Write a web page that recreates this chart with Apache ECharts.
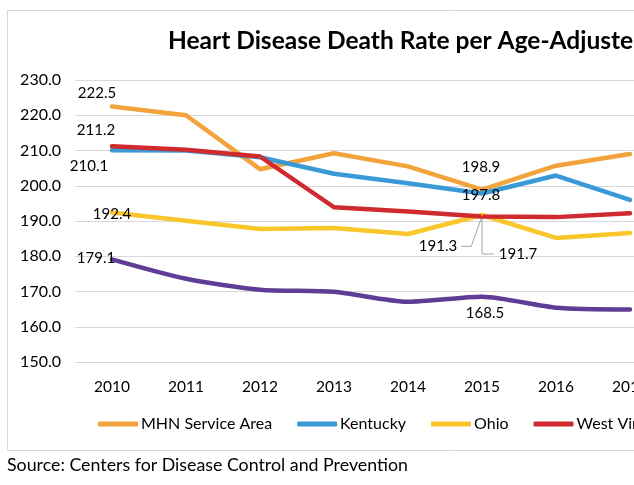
<!DOCTYPE html>
<html>
<head>
<meta charset="utf-8">
<script src="https://cdn.jsdelivr.net/npm/echarts@6/dist/echarts.min.js"></script>
<style>
html,body{margin:0;padding:0;background:#fff;overflow:hidden;width:634px;height:485px;}
#chart{width:900px;height:485px;}
</style>
</head>
<body>
<div id="chart"></div>
<script>
const years = ['2010','2011','2012','2013','2014','2015','2016','2017'];
const mhn      = [222.5, 220.0, 204.7, 209.2, 205.5, 198.9, 205.7, 209.0];
const kentucky = [210.1, 210.0, 208.1, 203.4, 200.7, 197.8, 202.9, 196.0];
const ohio     = [192.4, 190.1, 187.7, 188.0, 186.3, 191.7, 185.2, 186.6];
const wv       = [211.2, 210.2, 208.3, 193.9, 192.7, 191.3, 191.1, 192.2];
const us       = [179.1, 173.6, 170.5, 169.9, 167.1, 168.5, 165.4, 164.9];
const yTicks   = [150, 160, 170, 180, 190, 200, 210, 220, 230];

const FONT = 'Lato';
const LABEL_SIZE = 15;
const labelBase = {color:'#000', fontFamily:FONT, fontSize:LABEL_SIZE, position:'inside', textBorderWidth:0};
// labelled points: index -> [dx, dy, leaderSide]
const labelSpec = {
  'MHN Service Area': {0:[-15,-13], 5:[-1,-22]},
  'Kentucky': {0:[-23,16], 5:[-1,2]},
  'Ohio': {0:[0,2], 5:[36,39,'right']},
  'West Virginia': {0:[-16,-16], 5:[-44,30,'left']},
  'United States': {0:[-16,-1], 5:[3,16]}
};

function buildData(name, arr){
  const spec = labelSpec[name] || {};
  return arr.map((v,i)=>{
    const s = spec[i];
    if(!s) return {value:v, label:{show:false}};
    return {value:v, label:Object.assign({show:true, formatter:(p)=>p.value.toFixed(1)}, labelBase)};
  });
}

const seriesDefs = [
  {name:'MHN Service Area', data:mhn, color:'#F3A33B'},
  {name:'Kentucky', data:kentucky, color:'#3A9AD8'},
  {name:'Ohio', data:ohio, color:'#F9C62C'},
  {name:'West Virginia', data:wv, color:'#CF2A2E'},
  {name:'United States', data:us, color:'#5F3C95'}
];

function layoutFor(seriesName){
  return function(params){
    const s = (labelSpec[seriesName]||{})[params.dataIndex];
    if(!s) return {};
    return {dx:s[0], dy:s[1]};
  };
}

const chart = echarts.init(document.getElementById('chart'), null, {renderer:'canvas'});
const baseGraphic = [
  {type:'rect', shape:{x:7.5, y:10.5, width:1000, height:440}, style:{fill:'none', stroke:'#d9d9d9', lineWidth:1}, z:-1},
  {type:'text', left:7, top:456, style:{text:'Source: Centers for Disease Control and Prevention', fontFamily:FONT, fontSize:17.8, fill:'#000'}}
];
chart.setOption({
  animation:false,
  backgroundColor:'#fff',
  title:{
    text:'Heart Disease Death Rate per Age-Adjusted 100,000 Population',
    left:168, top:29, padding:0,
    textStyle:{fontFamily:FONT, fontSize:24.5, fontWeight:'bold', color:'#000'}
  },
  graphic:baseGraphic,
  legend:{
    left:98, top:416, padding:0,
    itemWidth:40, itemHeight:5, itemGap:25, icon:'roundRect',
    textStyle:{fontFamily:FONT, fontSize:16, color:'#000', padding:[0,0,0,-2]},
    data:seriesDefs.map(s=>s.name)
  },
  grid:{left:75, top:80, width:74*years.length, height:282, containLabel:false},
  xAxis:{
    type:'category', data:years, boundaryGap:true,
    axisLine:{show:false}, axisTick:{show:false},
    axisLabel:{fontFamily:FONT, fontSize:15.5, color:'#000', margin:17}
  },
  yAxis:{
    type:'value', min:yTicks[0], max:yTicks[yTicks.length-1], interval:10,
    axisLine:{show:false}, axisTick:{show:false},
    axisLabel:{fontFamily:FONT, fontSize:16, color:'#000', margin:14, formatter:(v)=>v.toFixed(1)},
    splitLine:{lineStyle:{color:'#d9d9d9', width:1}}
  },
  series:seriesDefs.map(s=>({
    name:s.name, type:'line', data:buildData(s.name, s.data),
    smooth: s.name==='United States' ? 0.25 : false,
    symbol:'circle', symbolSize:2, showSymbol:true,
    itemStyle:{color:s.color},
    lineStyle:{color:s.color, width:4.5, cap:'round', join:'round'},
    labelLayout: layoutFor(s.name),
    emphasis:{disabled:true}
  }))
});

// leader lines for the crowded 2015 labels, positioned from the library's scales
const ctx = document.createElement('canvas').getContext('2d');
ctx.font = LABEL_SIZE + 'px ' + FONT;
const leaders = [];
seriesDefs.forEach((s, si)=>{
  const spec = labelSpec[s.name] || {};
  Object.keys(spec).forEach(k=>{
    const sp = spec[k]; if(!sp[2]) return;
    const idx = +k;
    const p = chart.convertToPixel({seriesIndex:si}, [idx, s.data[idx]]);
    const w = ctx.measureText(s.data[idx].toFixed(1)).width;
    const lcx = p[0] + sp[0], my = p[1] + sp[1];
    let pts;
    if(sp[2]==='right'){
      const lx = lcx - w/2 - 5;
      pts = [[p[0], p[1]], [p[0], my], [lx, my]];
    } else {
      const rx = lcx + w/2 + 4;
      pts = [[rx, my], [rx + 10, my], [p[0], p[1]]];
    }
    leaders.push({type:'polyline', shape:{points:pts}, style:{stroke:'#a6a6a6', lineWidth:1, fill:null}, z:1});
  });
});
chart.setOption({graphic: baseGraphic.concat(leaders)}, {replaceMerge:['graphic']});
</script>
</body>
</html>
